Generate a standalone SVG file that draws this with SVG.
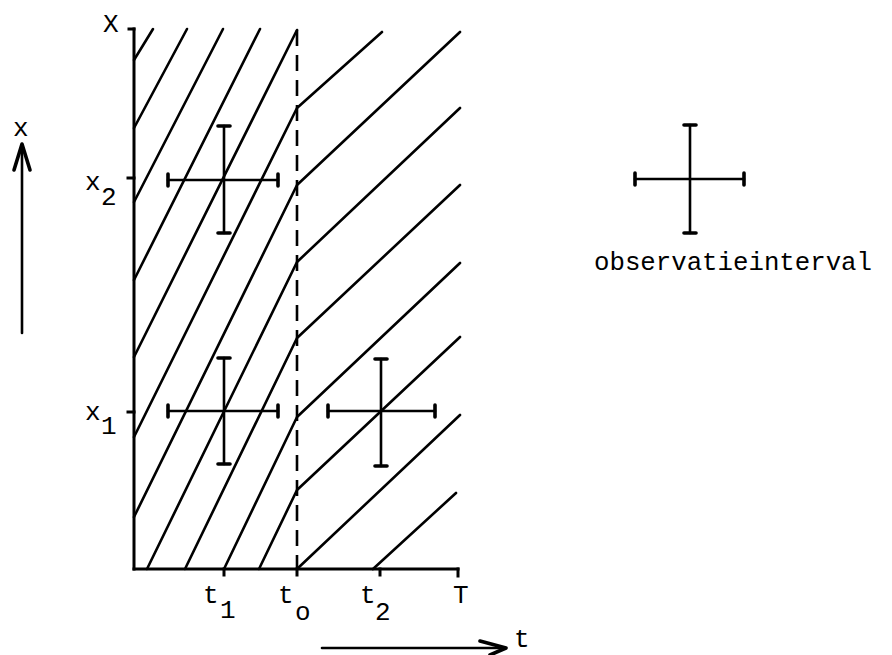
<svg xmlns="http://www.w3.org/2000/svg" width="892" height="655" viewBox="0 0 892 655">
<style>
.ln{stroke:#000;stroke-width:2.6;fill:none;stroke-linecap:round;stroke-linejoin:round}
.ax{stroke:#000;stroke-width:3;fill:none;stroke-linecap:square}
.cap{stroke:#000;stroke-width:3.6;fill:none;stroke-linecap:round;stroke-linejoin:round}
.dash{stroke:#000;stroke-width:2.6;fill:none;stroke-dasharray:16 9}
.lb{font-family:"Liberation Mono","DejaVu Sans Mono",monospace;font-size:26px;fill:#000}
</style>
<rect width="892" height="655" fill="#fff"/>

<g id="axes">
  <line class="ax" x1="134" y1="29" x2="134" y2="569"/>
  <line class="ax" x1="134" y1="569" x2="458" y2="569"/>
  <line class="ax" x1="129" y1="29" x2="134" y2="29"/>
  <line class="ax" x1="128" y1="178" x2="134" y2="178"/>
  <line class="ax" x1="128" y1="412" x2="134" y2="412"/>
  <line class="ax" x1="224" y1="569" x2="224" y2="575"/>
  <line class="ax" x1="297" y1="569" x2="297" y2="575"/>
  <line class="ax" x1="380" y1="569" x2="380" y2="575"/>
  <line class="ax" x1="458" y1="569" x2="458" y2="576"/>
  <line class="dash" x1="297" y1="30" x2="297" y2="569"/>
</g>

<g id="connectors">
  <polyline class="ln" points="134,60 153,29"/>
  <polyline class="ln" points="134,128 187,29"/>
  <polyline class="ln" points="134,202 223,29"/>
  <polyline class="ln" points="134,280 260,29"/>
  <polyline class="ln" points="134,357 297,30"/>
  <polyline class="ln" points="134,437 297,108 382,32"/>
  <polyline class="ln" points="134,517 297,185 460,32"/>
  <polyline class="ln" points="147,569 297,262 460,108"/>
  <polyline class="ln" points="185,569 297,338 460,185"/>
  <polyline class="ln" points="224,569 297,417 460,263"/>
  <polyline class="ln" points="259,569 297,490 460,337"/>
  <polyline class="ln" points="297,569 460,415"/>
  <polyline class="ln" points="373,569 456,493"/>
</g>

<g id="cross-a">
  <line class="ln" x1="224" y1="126" x2="224" y2="233"/>
  <line class="ln" x1="168" y1="180" x2="278" y2="180"/>
  <line class="cap" x1="218" y1="126" x2="230" y2="126"/>
  <line class="cap" x1="218" y1="233" x2="230" y2="233"/>
  <line class="cap" x1="168" y1="174" x2="168" y2="186"/>
  <line class="cap" x1="278" y1="174" x2="278" y2="186"/>
</g>

<g id="cross-b">
  <line class="ln" x1="224" y1="358" x2="224" y2="464"/>
  <line class="ln" x1="168" y1="411" x2="278" y2="411"/>
  <line class="cap" x1="218" y1="358" x2="230" y2="358"/>
  <line class="cap" x1="218" y1="464" x2="230" y2="464"/>
  <line class="cap" x1="168" y1="405" x2="168" y2="417"/>
  <line class="cap" x1="278" y1="405" x2="278" y2="417"/>
</g>

<g id="cross-c">
  <line class="ln" x1="381" y1="359" x2="381" y2="466"/>
  <line class="ln" x1="328" y1="411" x2="435" y2="411"/>
  <line class="cap" x1="375" y1="359" x2="387" y2="359"/>
  <line class="cap" x1="375" y1="466" x2="387" y2="466"/>
  <line class="cap" x1="328" y1="405" x2="328" y2="417"/>
  <line class="cap" x1="435" y1="405" x2="435" y2="417"/>
</g>

<g id="legend">
  <line class="ln" x1="690" y1="125" x2="690" y2="233"/>
  <line class="ln" x1="635" y1="179" x2="744" y2="179"/>
  <line class="cap" x1="684" y1="125" x2="696" y2="125"/>
  <line class="cap" x1="684" y1="233" x2="696" y2="233"/>
  <line class="cap" x1="635" y1="173" x2="635" y2="185"/>
  <line class="cap" x1="744" y1="173" x2="744" y2="185"/>
  <text class="lb" x="594" y="270" textLength="278" lengthAdjust="spacingAndGlyphs">observatieinterval</text>
</g>

<g id="x-arrow">
  <line class="ln" x1="22" y1="333" x2="22" y2="150"/>
  <polyline class="cap" points="14,170 22,144 30,170"/>
  <text class="lb" x="13" y="136">x</text>
</g>

<g id="t-arrow">
  <line class="ln" x1="322" y1="648" x2="504" y2="648"/>
  <polyline class="cap" points="480,641 506,648 490,655"/>
  <text class="lb" x="514" y="647">t</text>
</g>

<g id="labels">
  <text class="lb" x="103" y="32">X</text>
  <text class="lb" x="85" y="190">x</text>
  <text class="lb" x="101" y="205">2</text>
  <text class="lb" x="85" y="420">x</text>
  <text class="lb" x="101" y="434">1</text>
  <text class="lb" x="203" y="603">t</text>
  <text class="lb" x="220" y="618">1</text>
  <text class="lb" x="278" y="603">t</text>
  <text class="lb" x="295" y="620">o</text>
  <text class="lb" x="360" y="603">t</text>
  <text class="lb" x="375" y="620">2</text>
  <text class="lb" x="453" y="603">T</text>
</g>
</svg>
